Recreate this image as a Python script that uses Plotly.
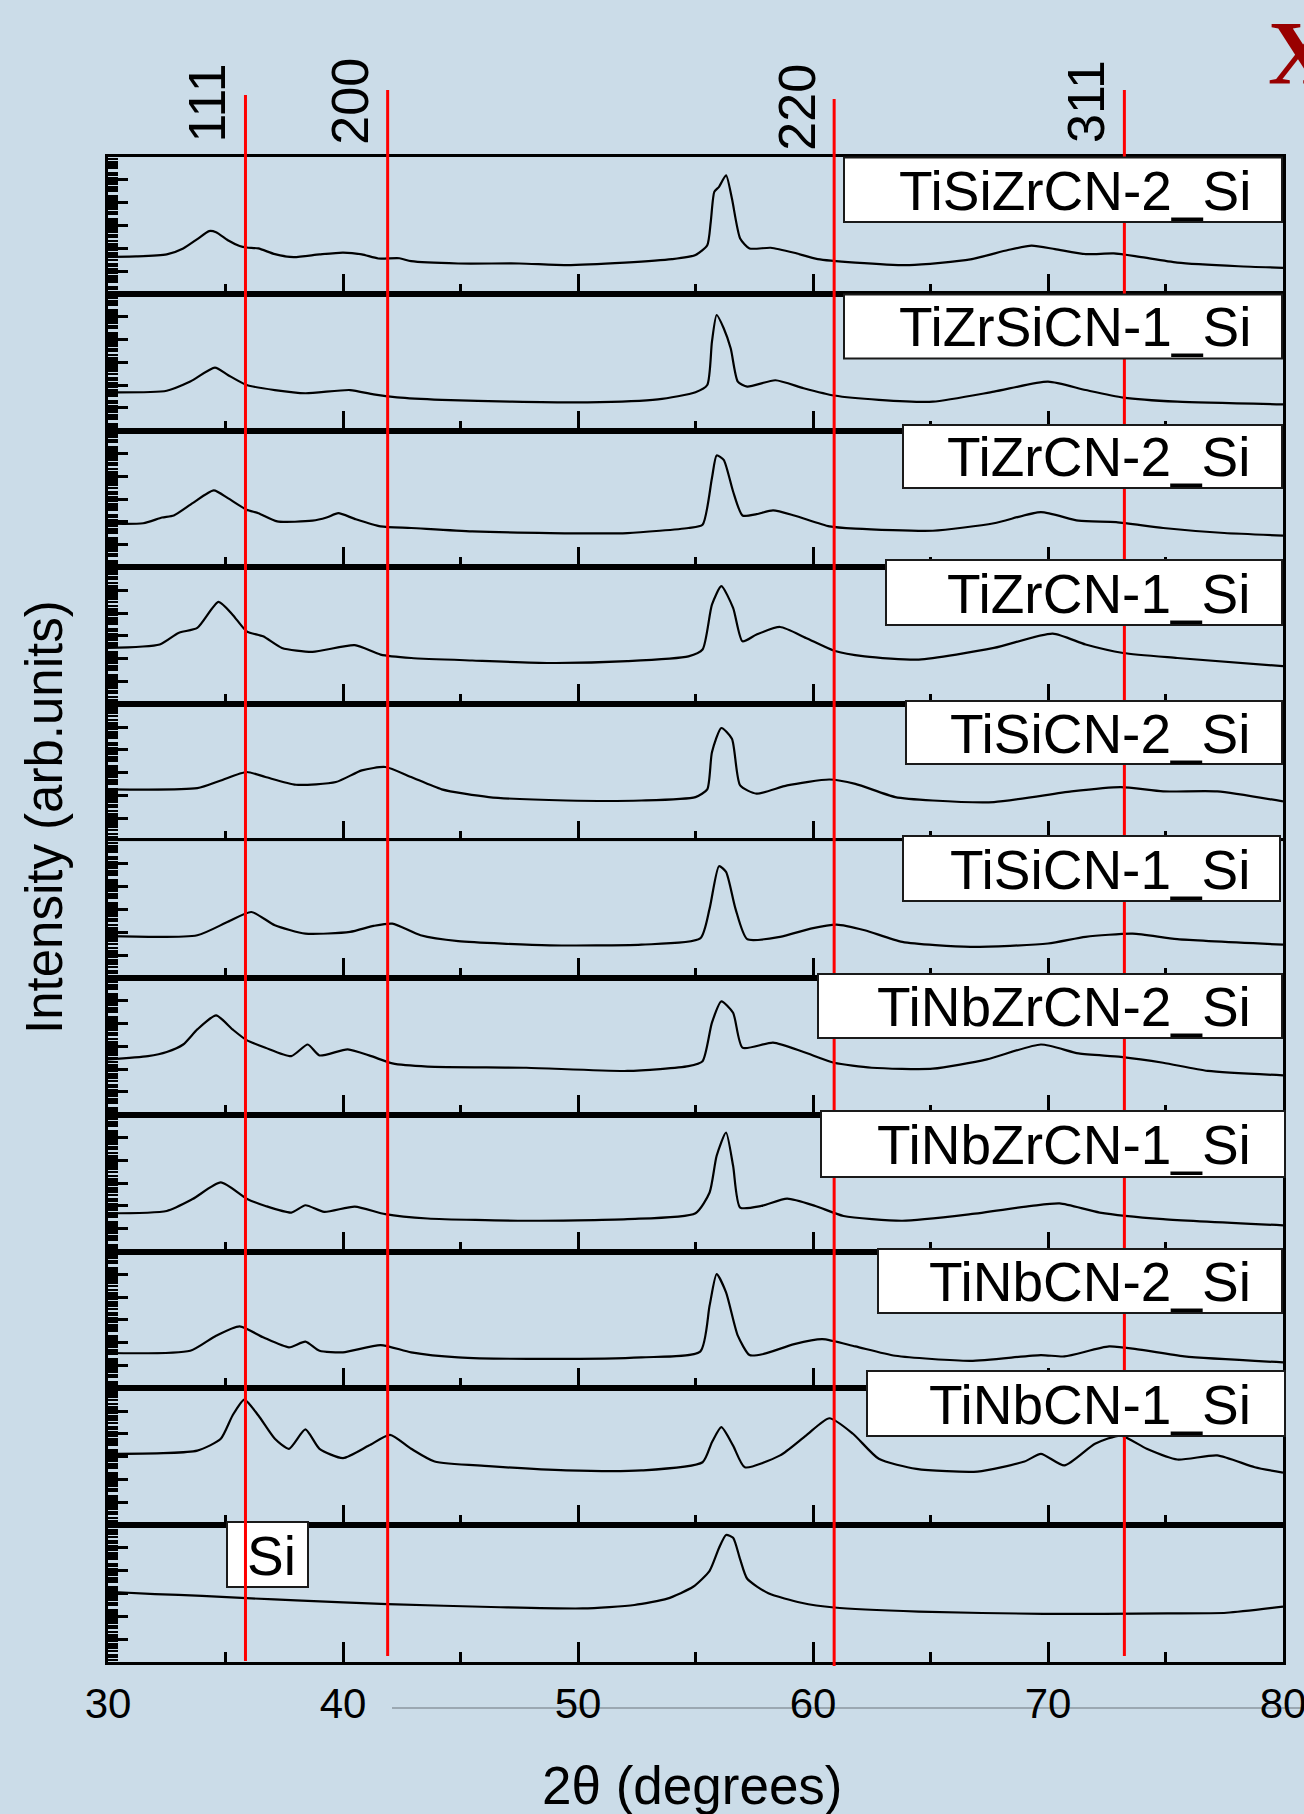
import plotly.graph_objects as go
from plotly.subplots import make_subplots

# ---------------- data (2theta in degrees, intensity in arb. units per panel) ----------------
samples = ["TiSiZrCN-2_Si", "TiZrSiCN-1_Si", "TiZrCN-2_Si", "TiZrCN-1_Si", "TiSiCN-2_Si",
           "TiSiCN-1_Si", "TiNbZrCN-2_Si", "TiNbZrCN-1_Si", "TiNbCN-2_Si", "TiNbCN-1_Si", "Si"]

TiSiZrCN_2 = [(30.0, 16.2), (31.2, 16.4), (32.5, 17.3), (33.2, 19.9), (33.8, 24.0), (34.3, 27.5), (34.6, 27.0),
              (35.1, 23.5), (35.6, 21.0), (35.9, 20.3), (36.4, 19.9), (37.1, 17.4), (37.9, 16.1), (39.0, 17.3),
              (40.0, 18.1), (40.8, 17.3), (41.5, 15.5), (42.4, 15.6), (42.9, 14.3), (44.9, 13.3), (47.5, 13.3),
              (49.5, 12.6), (52.0, 13.7), (54.0, 15.2), (55.0, 17.0), (55.5, 21.3), (55.65, 31.6), (55.8, 44.7),
              (56.0, 46.9), (56.3, 52.0), (56.55, 41.8), (56.9, 24.3), (57.3, 19.9), (58.2, 20.2), (59.2, 18.0),
              (60.2, 15.2), (61.8, 13.7), (64.1, 12.6), (66.7, 15.1), (68.3, 19.2), (69.3, 21.1), (70.3, 19.6),
              (71.6, 17.4), (72.8, 17.7), (73.9, 16.2), (75.5, 13.7), (78.1, 12.1), (80.0, 11.4)]
TiZrSiCN_1 = [(30.0, 16.8), (32.5, 17.5), (33.5, 21.5), (34.55, 27.6), (35.1, 24.4), (35.9, 20.0), (37.1, 17.8),
              (38.4, 16.4), (40.3, 17.8), (41.3, 15.9), (42.3, 14.6), (44.2, 13.5), (47.2, 12.7), (50.4, 12.4),
              (53.4, 13.7), (55.0, 16.8), (55.5, 20.0), (55.7, 39.0), (55.9, 50.7), (56.2, 44.9), (56.5, 36.0),
              (56.8, 21.5), (57.2, 19.3), (58.4, 22.1), (59.6, 18.6), (60.9, 15.4), (62.8, 13.5), (65.1, 12.7),
              (67.7, 17.1), (70.0, 21.5), (71.6, 17.8), (73.2, 14.5), (75.5, 12.7), (80.0, 11.5)]
TiZrCN_2 = [(30.0, 19.2), (31.5, 19.4), (32.3, 21.9), (32.8, 22.8), (33.6, 28.2), (34.5, 33.8), (35.1, 30.4),
            (35.9, 25.3), (36.4, 23.8), (37.2, 20.2), (38.7, 20.5), (39.3, 21.9), (39.8, 23.8), (40.5, 21.3),
            (41.6, 18.0), (42.9, 17.3), (45.5, 15.8), (48.8, 15.1), (52.1, 15.1), (54.7, 17.3), (55.3, 18.7),
            (55.7, 39.2), (55.9, 49.1), (56.2, 47.2), (56.6, 33.3), (57.0, 22.8), (57.6, 23.4), (58.3, 25.0),
            (59.2, 22.8), (60.7, 18.0), (61.8, 17.0), (65.1, 16.1), (67.7, 19.4), (69.7, 24.3), (71.3, 20.5),
            (72.9, 19.9), (74.9, 17.3), (77.5, 15.1), (80.0, 14.0)]
TiZrCN_1 = [(30.0, 24.7), (32.2, 26.2), (33.0, 31.3), (33.8, 33.5), (34.7, 44.9), (35.3, 39.3), (35.9, 32.0),
            (36.6, 29.8), (37.4, 24.7), (38.7, 23.0), (40.5, 25.9), (41.6, 21.8), (42.9, 20.3), (45.5, 19.2),
            (48.8, 18.1), (52.1, 18.9), (54.7, 21.0), (55.3, 24.0), (55.7, 43.7), (56.1, 51.8), (56.6, 42.3),
            (57.0, 27.6), (57.6, 30.6), (58.6, 33.9), (59.7, 29.1), (60.9, 23.5), (62.2, 21.0), (64.5, 19.6),
            (67.7, 24.7), (70.2, 31.0), (71.6, 26.2), (73.2, 22.5), (75.5, 20.3), (80.0, 16.7)]
TiSiCN_2 = [(30.0, 22.7), (33.8, 23.2), (34.8, 26.6), (35.9, 30.3), (36.7, 28.1), (38.0, 24.7), (39.7, 25.9),
            (40.8, 31.0), (41.8, 32.5), (42.9, 28.1), (44.2, 22.7), (46.2, 19.3), (49.5, 17.8), (52.7, 17.8),
            (55.0, 19.3), (55.5, 22.7), (55.7, 39.0), (56.1, 49.6), (56.55, 44.9), (56.9, 24.4), (57.6, 20.8),
            (58.9, 24.4), (60.7, 27.0), (61.8, 25.1), (63.5, 19.3), (65.1, 17.8), (67.7, 17.1), (71.0, 21.8),
            (73.1, 23.7), (74.9, 21.8), (77.2, 21.8), (80.0, 17.4)]
TiSiCN_1 = [(30.0, 18.3), (33.8, 18.7), (35.1, 24.6), (36.1, 28.9), (37.1, 23.1), (38.4, 19.4), (40.3, 20.2),
            (41.3, 22.8), (42.1, 23.8), (43.3, 18.7), (44.9, 16.1), (48.8, 14.3), (52.7, 14.6), (55.2, 17.3),
            (55.6, 30.4), (56.0, 49.0), (56.3, 46.5), (56.7, 30.4), (57.2, 17.0), (58.6, 18.0), (59.9, 21.6),
            (61.0, 23.4), (62.2, 20.9), (63.8, 15.8), (66.7, 13.6), (70.0, 15.1), (71.6, 18.0), (73.6, 19.4),
            (75.5, 17.0), (80.0, 14.6)]
TiNbZrCN_2 = [(30.0, 24.3), (31.7, 25.7), (32.5, 27.5), (33.2, 30.8), (33.8, 37.4), (34.6, 43.6), (35.3, 37.4),
              (35.9, 32.7), (36.7, 29.4), (37.8, 25.7), (38.5, 30.8), (39.0, 26.0), (40.2, 28.7), (41.2, 25.7),
              (42.1, 22.5), (43.6, 21.1), (47.8, 20.6), (52.1, 19.2), (54.7, 21.3), (55.3, 23.5), (55.7, 40.4),
              (56.1, 49.7), (56.6, 44.7), (57.0, 29.4), (58.3, 31.6), (59.6, 27.5), (60.9, 22.8), (62.5, 20.6),
              (65.1, 20.2), (67.4, 24.3), (69.7, 30.8), (71.3, 26.9), (73.1, 25.4), (74.9, 22.8), (76.8, 19.2),
              (80.0, 17.3)]
TiNbZrCN_1 = [(30.0, 16.8), (32.5, 17.8), (33.6, 23.0), (34.8, 30.3), (35.9, 23.2), (36.7, 20.0), (37.8, 17.1),
              (38.4, 20.3), (39.2, 17.4), (40.5, 19.7), (41.8, 16.4), (43.6, 14.5), (47.8, 13.5), (52.1, 14.2),
              (55.0, 16.8), (55.6, 25.9), (55.9, 42.0), (56.3, 52.2), (56.6, 37.6), (56.9, 19.3), (57.8, 20.0),
              (58.9, 23.2), (60.1, 20.0), (61.3, 15.6), (63.8, 13.5), (66.7, 16.4), (69.3, 20.0), (70.5, 21.1),
              (72.2, 17.1), (74.9, 14.2), (80.0, 11.5)]
TiNbCN_2 = [(30.0, 15.5), (33.5, 16.5), (34.6, 23.1), (35.6, 27.2), (36.6, 22.4), (37.7, 18.0), (38.4, 20.5),
            (39.0, 16.5), (40.0, 15.8), (41.6, 19.0), (42.9, 15.8), (44.9, 13.6), (48.8, 12.9), (52.7, 13.6),
            (55.2, 16.1), (55.6, 36.3), (55.9, 50.1), (56.3, 42.1), (56.8, 23.1), (57.3, 14.6), (57.9, 15.1),
            (59.2, 19.4), (60.4, 21.6), (61.8, 18.4), (63.5, 14.3), (66.7, 12.1), (69.7, 14.6), (70.7, 14.0),
            (72.6, 18.4), (73.9, 17.0), (75.8, 14.0), (80.0, 11.4)]
TiNbCN_1 = [(30.0, 31.3), (33.8, 32.7), (34.8, 37.9), (35.3, 48.1), (35.8, 55.1), (36.4, 48.1), (37.1, 37.9),
            (37.7, 33.5), (38.4, 42.0), (39.0, 33.5), (40.0, 29.4), (41.1, 34.9), (42.0, 39.6), (42.9, 33.5),
            (43.9, 27.9), (46.2, 25.9), (49.5, 24.0), (52.7, 24.0), (55.3, 27.6), (55.7, 36.4), (56.1, 43.0),
            (56.6, 34.9), (57.1, 25.4), (58.6, 30.6), (59.7, 39.3), (60.7, 46.9), (61.7, 40.1), (62.8, 29.1),
            (64.4, 24.7), (67.0, 23.5), (69.0, 27.9), (69.7, 31.3), (70.7, 26.2), (72.0, 35.7), (73.1, 39.3),
            (74.2, 33.5), (75.5, 28.8), (77.2, 30.6), (78.8, 25.4), (80.0, 23.0)]
Si_ref = [(30.0, 30.8), (32.0, 29.8), (34.0, 29.0), (36.1, 27.9), (38.0, 27.0), (41.9, 25.4), (46.7, 24.0),
          (50.2, 23.5), (52.4, 25.0), (53.8, 27.8), (54.9, 33.0), (55.6, 40.0), (56.0, 50.0), (56.3, 55.7),
          (56.6, 54.5), (56.9, 45.0), (57.2, 36.5), (58.1, 30.1), (59.5, 26.0), (60.9, 23.9), (64.5, 22.1),
          (69.8, 21.1), (75.1, 21.3), (77.6, 21.6), (80.0, 24.3)]

patterns = [TiSiZrCN_2, TiZrSiCN_1, TiZrCN_2, TiZrCN_1, TiSiCN_2, TiSiCN_1,
            TiNbZrCN_2, TiNbZrCN_1, TiNbCN_2, TiNbCN_1, Si_ref]

hkl_labels = ["111", "200", "220", "311"]
hkl_positions = [35.85, 41.9, 60.9, 73.25]

# ---------------- layout helpers ----------------
W, H = 1304, 1814
L, R, T, B = 108, 21, 157, 152
PW, PH = W - L - R, H - T - B
BG = "#cbdce8"
FONT = "Liberation Sans, Arial, sans-serif"


def px(xp):
    return (xp - L) / PW


def py(yp):
    return (H - B - yp) / PH


n = len(patterns)
fig = make_subplots(rows=n, cols=1, shared_xaxes=True, vertical_spacing=0)
for i, pts in enumerate(patterns):
    fig.add_trace(go.Scatter(x=[p[0] for p in pts], y=[p[1] for p in pts], mode="lines",
                             line=dict(color="black", width=2.2, shape="spline", smoothing=0.6),
                             showlegend=False, hoverinfo="skip"), row=i + 1, col=1)

minor_y = [v for v in range(0, 61) if v % 10 not in (0, 4)]
fig.update_xaxes(range=[30, 80], tick0=30, dtick=10, ticks="inside", ticklen=20, tickwidth=3,
                 tickcolor="black", showline=True, linewidth=3, linecolor="black", mirror=True,
                 showgrid=False, zeroline=False, automargin=False,
                 minor=dict(tick0=30, dtick=5, ticks="inside", ticklen=10, tickwidth=3,
                            tickcolor="black", showgrid=False))
fig.update_yaxes(range=[0, 60], tick0=0, dtick=10, ticks="inside", ticklen=20, tickwidth=3,
                 tickcolor="black", showline=True, linewidth=3, linecolor="black", mirror=True,
                 showgrid=False, zeroline=False, showticklabels=False, automargin=False,
                 minor=dict(tickmode="array", tickvals=minor_y, ticks="inside", ticklen=10, tickwidth=2,
                            tickcolor="black", showgrid=False))
fig.update_xaxes(showticklabels=True, tickfont=dict(size=42, family=FONT, color="black"),
                 ticklabelstandoff=3, ticklabeloverflow="allow", row=n, col=1)

# label boxes (pixel rectangles) and text placement
box_rects = [(844, 1282, 157.5, 222), (844, 1282, 294.5, 358.5), (903, 1282, 425, 488),
             (886, 1282, 560, 625), (906, 1282, 701, 764), (903, 1280, 836, 901),
             (818, 1282, 974, 1038), (821, 1285, 1111, 1177), (878, 1282, 1249, 1313),
             (867, 1285, 1371, 1436), (227, 308, 1522, 1587)]

shapes = []
shapes.append(dict(type="line", xref="paper", yref="paper", x0=px(392), x1=px(1304),
                   y0=py(1708), y1=py(1708), line=dict(color="#8b97a1", width=1.5), layer="below"))


def rect(r):
    x0, x1, y0, y1 = r
    return dict(type="rect", xref="paper", yref="paper", x0=px(x0), x1=px(x1), y0=py(y1), y1=py(y0),
                fillcolor="white", line=dict(color="#1a1a1a", width=2), layer="above")


shapes.append(rect(box_rects[-1]))  # Si box sits below the red lines
red_tops = [95, 90, 99, 90]
red_bottoms = [1661, 1656, 1666, 1656]
xref_bottom = "x%d" % n
for pos, t0, b0 in zip(hkl_positions, red_tops, red_bottoms):
    shapes.append(dict(type="line", xref=xref_bottom, yref="paper", x0=pos, x1=pos,
                       y0=py(b0), y1=py(t0), line=dict(color="#ff0000", width=3), layer="above"))
for r in box_rects[:-1]:
    shapes.append(rect(r))

annotations = []
for i, name in enumerate(samples):
    x0, x1, y0, y1 = box_rects[i]
    yc = (y0 + y1) / 2 + 1
    if name == "Si":
        annotations.append(dict(text=name, x=px((x0 + x1) / 2 + 4), y=py(yc), xref="paper", yref="paper",
                                xanchor="center", yanchor="middle", showarrow=False,
                                font=dict(size=55, family=FONT, color="black")))
    else:
        annotations.append(dict(text=name, x=px(1253), y=py(yc), xref="paper", yref="paper",
                                xanchor="right", yanchor="middle", showarrow=False,
                                font=dict(size=55, family=FONT, color="black")))

hkl_centers_y = [103, 101, 107.5, 101.5]
for lab, pos, yc in zip(hkl_labels, hkl_positions, hkl_centers_y):
    annotations.append(dict(text=lab, x=pos, xref=xref_bottom, y=py(yc), yref="paper", textangle=-90,
                            xanchor="center", yanchor="middle", xshift=-38, showarrow=False,
                            font=dict(size=52, family=FONT, color="black")))

annotations.append(dict(text="Intensity (arb.units)", x=px(44), y=py(817), xref="paper", yref="paper",
                        textangle=-90, xanchor="center", yanchor="middle", showarrow=False,
                        font=dict(size=51, family=FONT, color="black")))
annotations.append(dict(text="2θ (degrees)", x=px(692), y=py(1785), xref="paper", yref="paper",
                        xanchor="center", yanchor="middle", showarrow=False,
                        font=dict(size=53, family=FONT, color="black")))
annotations.append(dict(text="<b>XRD</b>", x=px(1266), y=py(53), xref="paper", yref="paper",
                        xanchor="left", yanchor="middle", showarrow=False,
                        font=dict(size=90, family="Liberation Serif, Times New Roman, serif", color="#990000")))

fig.update_layout(width=W, height=H, margin=dict(l=L, r=R, t=T, b=B, pad=0, autoexpand=False),
                  paper_bgcolor=BG, plot_bgcolor=BG, showlegend=False,
                  font=dict(family=FONT, color="black"),
                  shapes=shapes, annotations=annotations)

fig.write_html("out.html", config={"displayModeBar": False},
               post_script="document.body.style.margin='0px';document.body.style.background='%s';" % BG)
